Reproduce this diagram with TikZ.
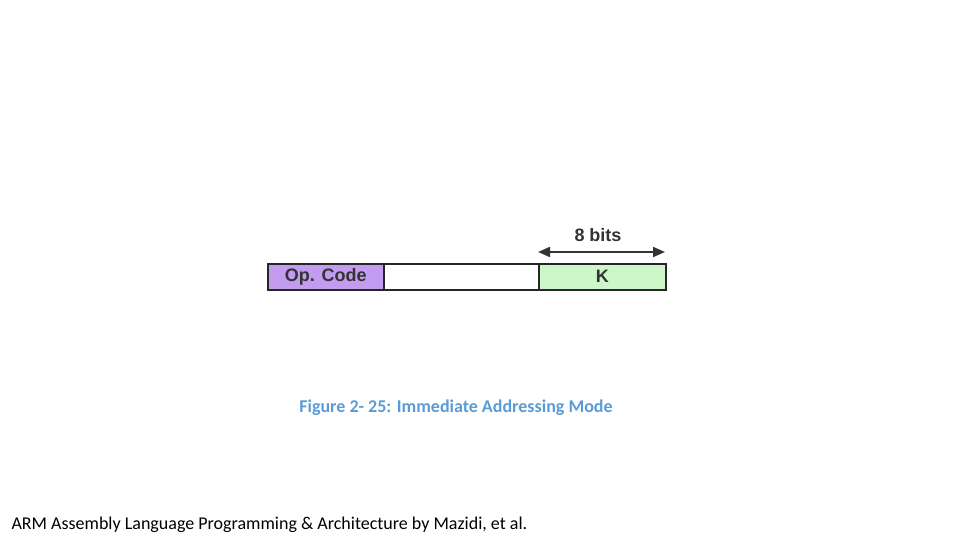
\documentclass[tikz,border=0pt]{standalone}
\usepackage{fontspec}
\setmainfont{Carlito}
\newfontfamily\boxfont{Liberation Sans}
\usetikzlibrary{arrows.meta}
\definecolor{opc}{HTML}{C39BF0}
\definecolor{kc}{HTML}{CDF7C8}
\definecolor{capc}{HTML}{5B9BD5}
\begin{document}
\begin{tikzpicture}[x=1pt,y=-1pt,
  field/.style={draw=black!85,line width=1.6pt,minimum height=26pt,inner sep=0pt,anchor=north west,font=\boxfont\bfseries\fontsize{18}{20}\selectfont,text=black!80}]
\useasboundingbox (0,0) rectangle (960,540);
\node[field,fill=opc,minimum width=116pt] (op) at (267,263) {Op. Code};
\node[field,fill=white,minimum width=155pt] (mid) at (383,263) {};
\node[field,fill=kc,minimum width=127pt] (k) at (538,263) {K};
\coordinate (al) at (538,252);
\coordinate (ar) at (665,252);
\draw[line width=2pt,black!80,{Triangle[length=12pt,width=10pt]}-{Triangle[length=12pt,width=10pt]}] (al) -- (ar);
\node[font=\boxfont\bfseries\fontsize{18}{20}\selectfont,text=black!80] (bits) at (598,235) {8 bits};
\node[font=\bfseries\fontsize{18}{21}\selectfont,text=capc] (cap) at (456,408) {Figure 2- 25: Immediate Addressing Mode};
\node[font=\fontsize{18}{21}\selectfont,anchor=west] (foot) at (8,525) {ARM Assembly Language Programming \& Architecture by Mazidi, et al.};
\end{tikzpicture}
\end{document}
